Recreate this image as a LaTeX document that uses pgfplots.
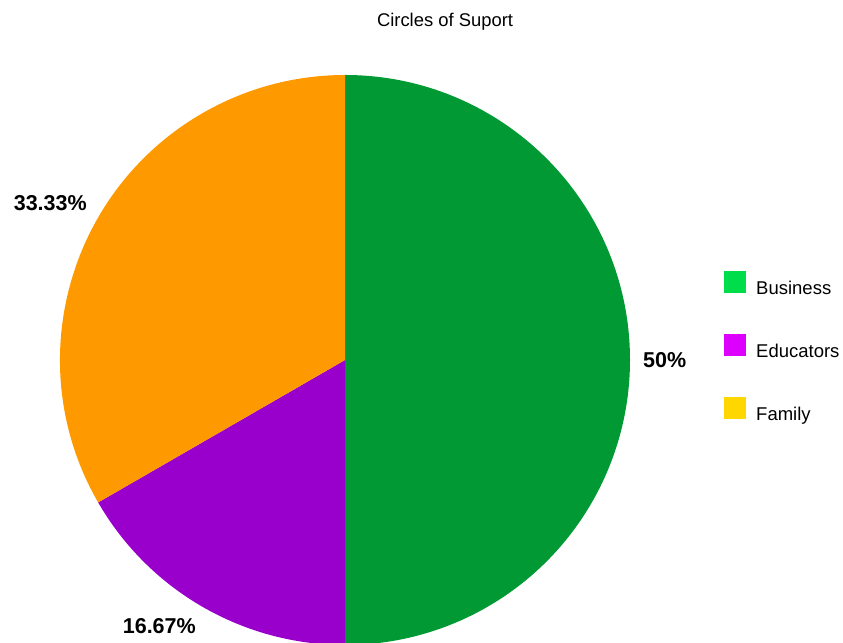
\documentclass[border=0pt]{standalone}
\usepackage{pgfplots}
\usepackage{pgfplotstable}
\pgfplotsset{compat=1.18}
\usepackage{fontspec}
\setmainfont{Liberation Sans}
\definecolor{pieGreen}{HTML}{009933}
\definecolor{piePurple}{HTML}{9900CC}
\definecolor{pieOrange}{HTML}{FF9900}
\definecolor{legGreen}{HTML}{00DD4A}
\definecolor{legPurple}{HTML}{DD00FF}
\definecolor{legYellow}{HTML}{FFD700}

\pgfplotstableread{
name value pie legend
Business 50 pieGreen legGreen
Educators 16.67 piePurple legPurple
Family 33.33 pieOrange legYellow
}\piedata

\begin{document}
\begin{tikzpicture}
\useasboundingbox (0,0) rectangle (843bp,643bp);
\begin{axis}[
  at={(0,0)}, anchor=south west,
  scale only axis, width=843bp, height=643bp,
  xmin=0, xmax=843, ymin=0, ymax=643,
  hide axis, clip=true,
  title={Circles of Suport},
  title style={at={(0.5279,0.950)}, anchor=base, font=\fontsize{18.4bp}{22bp}\selectfont, inner sep=0pt},
  legend image code/.code={\fill[#1] (0bp,-4bp) rectangle (22bp,18bp);},
  legend cell align=left,
  legend style={at={(axis cs:724,372)}, anchor=north west, draw=none, fill=none,
    inner sep=0pt, row sep=36bp, column sep=10bp,
    font=\fontsize{18.5bp}{22bp}\selectfont,
    nodes={inner sep=0pt, text height=14bp, text depth=4bp}},
]
\pgfplotstablegetrowsof{\piedata}
\pgfmathtruncatemacro\nrows{\pgfplotsretval-1}
\def\startangle{90}
\pgfplotsforeachungrouped \i in {0,...,\nrows}{%
  \pgfplotstablegetelem{\i}{value}\of\piedata \let\val\pgfplotsretval
  \pgfplotstablegetelem{\i}{pie}\of\piedata \let\pcol\pgfplotsretval
  \pgfplotstablegetelem{\i}{legend}\of\piedata \let\lcol\pgfplotsretval
  \pgfplotstablegetelem{\i}{name}\of\piedata \let\nm\pgfplotsretval
  \pgfmathsetmacro\endangle{\startangle-3.6*\val}%
  \pgfmathsetmacro\midangle{\startangle-1.8*\val}%
  \pgfmathsetmacro\cc{cos(\midangle)}%
  \pgfmathsetmacro\ss{sin(\midangle)}%
  \def\av{}%
  \ifdim\ss pt>0.2pt \def\av{south}\fi
  \ifdim\ss pt<-0.2pt \def\av{north}\fi
  \ifdim\cc pt>0pt \def\ah{west}\else\def\ah{east}\fi
  \ifx\av\empty \edef\anch{\ah}\else\edef\anch{\av\space\ah}\fi
  \pgfmathsetmacro\lx{345+298*\cc}%
  \pgfmathsetmacro\ly{283+298*\ss}%
  \edef\cmd{%
    \noexpand\fill[\pcol] (axis cs:345,283) -- ++(\startangle:285bp) arc[start angle=\startangle, end angle=\endangle, radius=285bp] -- cycle;
    \noexpand\node[anchor=\anch, inner sep=0pt, font=\noexpand\bfseries\noexpand\fontsize{21.5bp}{25bp}\noexpand\selectfont] at (axis cs:\lx,\ly) {\val\noexpand\%};
    \noexpand\addlegendimage{fill=\lcol, draw=none}
    \noexpand\addlegendentry{\nm}
  }%
  \cmd
  \global\let\startangle\endangle
}
\end{axis}
\end{tikzpicture}
\end{document}
